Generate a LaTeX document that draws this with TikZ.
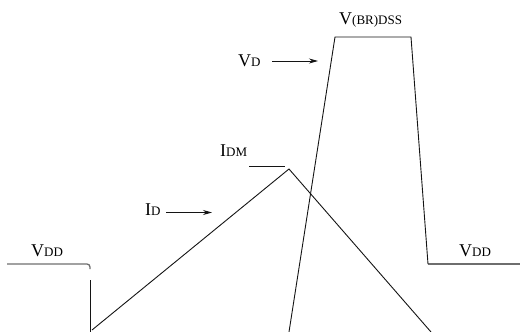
\documentclass[tikz,border=0pt]{standalone}
\usepackage{fontspec}
\setmainfont{Liberation Serif}
\usepackage{xcolor}
\usetikzlibrary{arrows.meta, positioning}
\definecolor{wave_line}{RGB}{20, 20, 20}
\definecolor{rail_line}{RGB}{110, 110, 110}
\newcommand{\biglabel}[2]{{\fontsize{18}{18}\selectfont #1}{\fontsize{13}{13}\selectfont #2}}

\begin{document}
\begin{tikzpicture}[x=1pt, y=-1pt,
    wave/.style={draw=wave_line, line width=0.9pt},
    rail/.style={draw=rail_line, line width=1.3pt},
    pointer/.style={draw=wave_line, line width=0.8pt, -{Stealth[length=9pt, width=5pt]}},
    lbl/.style={inner sep=0pt, anchor=base west, text=black}]
  \useasboundingbox (0,0) rectangle (520,332);
  % voltage and current points
  \coordinate (railA) at (7,264);
  \coordinate (railB) at (90,264);
  \coordinate (railC) at (90,269);
  \coordinate (dropT) at (90,280);
  \coordinate (dropB) at (90,332);
  \coordinate (idS) at (92,330);
  \coordinate (idP) at (289,169);
  \coordinate (idE) at (431,332);
  \coordinate (vdS) at (289,332);
  \coordinate (vdA) at (335,37);
  \coordinate (vdB) at (411,37);
  \coordinate (vdC) at (428,264);
  \coordinate (vdE) at (520,264);
  \coordinate (idmA) at (249,166.5);
  \coordinate (idmB) at (285,166.5);
  \coordinate (idA) at (166,212.5);
  \coordinate (idB) at (212,212.5);
  \coordinate (vdArrA) at (272,61);
  \coordinate (vdArrB) at (318,61);
  % labels
  \node[lbl] (vddL) at (31,256.7) {\biglabel{V}{DD}};
  \node[lbl] (vddR) at (459,256.7) {\biglabel{V}{DD}};
  \node[lbl] (idmT) at (220,156) {\biglabel{I}{DM}};
  \node[lbl] (idT) at (145,215) {\biglabel{I}{D}};
  \node[lbl] (vdT) at (238,66.7) {\biglabel{V}{D}};
  \node[lbl] (brT) at (339,24) {\biglabel{V}{(BR)DSS}};
  % rails
  \draw[rail, rounded corners=3pt] (railA) -- (railB) -- (railC);
  \draw[rail] (vdC) -- (vdE);
  \draw[wave] (idmA) -- (idmB);
  % waves
  \draw[wave] (dropT) -- (dropB);
  \draw[wave] (idS) -- (idP) -- (idE);
  \draw[wave] (vdS) -- (vdA) -- (vdB) -- (vdC);
  % pointers
  \draw[pointer] (idA) -- (idB);
  \draw[pointer] (vdArrA) -- (vdArrB);
\end{tikzpicture}
\end{document}
